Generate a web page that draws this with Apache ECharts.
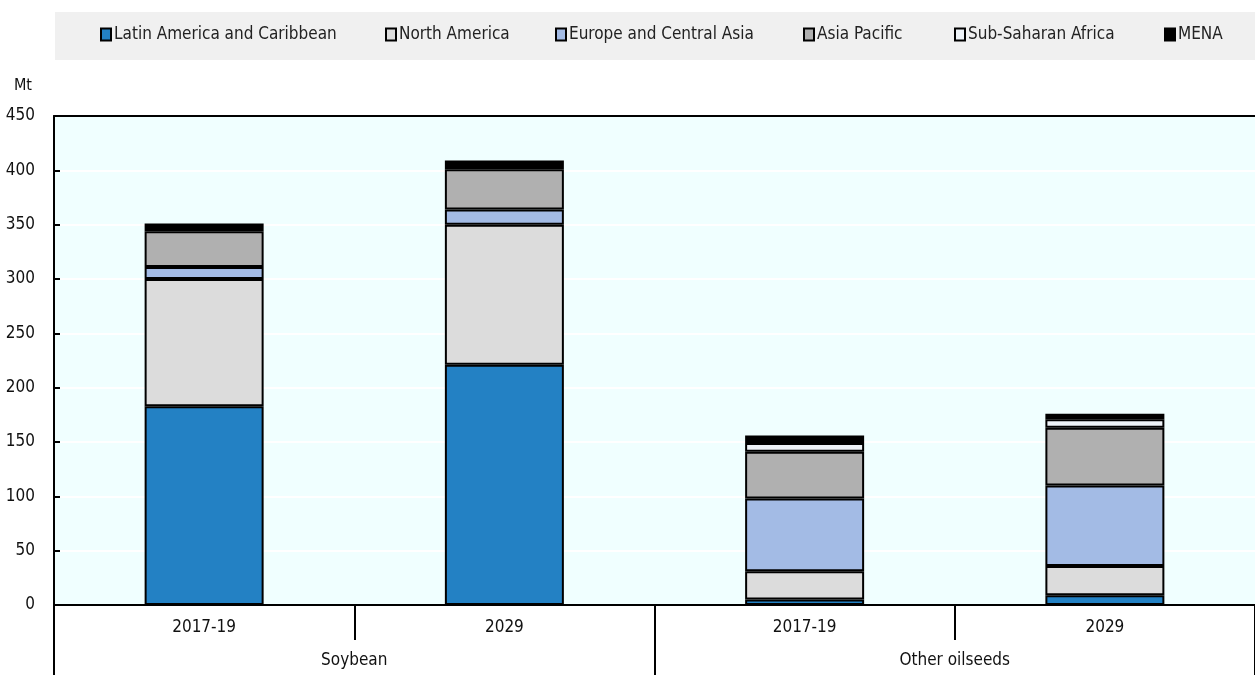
<!DOCTYPE html>
<html>
<head>
<meta charset="utf-8">
<script src="https://cdn.jsdelivr.net/npm/echarts@6/dist/echarts.min.js"></script>
<style>
  html, body { margin: 0; padding: 0; background: #fff; }
  #chart { width: 1255px; height: 675px; }
</style>
</head>
<body>
<div id="chart"></div>
<script>
// categories: product group + period
const groups = ["Soybean", "Other oilseeds"];
const periods = ["2017-19", "2029", "2017-19", "2029"];
const yTicks = [0, 50, 100, 150, 200, 250, 300, 350, 400, 450];

// production by region, Mt
const latinAmerica = [183, 221, 5, 9];
const northAmerica = [117, 129, 26, 27];
const europeCentralAsia = [11, 14, 67, 74];
const asiaPacific = [33, 37, 43, 53];
const subSaharanAfrica = [3, 3, 8, 8];
const mena = [4, 5, 7, 5];

const regions = [
  { name: "Latin America and Caribbean", data: latinAmerica, color: "#2381C4", legendX: 100 },
  { name: "North America", data: northAmerica, color: "#DCDCDC", legendX: 385 },
  { name: "Europe and Central Asia", data: europeCentralAsia, color: "#A3BBE5", legendX: 555 },
  { name: "Asia Pacific", data: asiaPacific, color: "#B0B0B0", legendX: 803 },
  { name: "Sub-Saharan Africa", data: subSaharanAfrica, color: "#EEF3F8", legendX: 954 },
  { name: "MENA", data: mena, color: "#000000", legendX: 1164 },
];

const font = "'Liberation Sans Narrow', 'DejaVu Sans Condensed', 'Liberation Sans', sans-serif";

const chart = echarts.init(document.getElementById("chart"));

chart.setOption({
  backgroundColor: "#fff",
  animation: false,
  textStyle: { fontFamily: font },

  graphic: [
    {
      type: "rect",
      shape: { x: 55, y: 12, width: 1200, height: 48 },
      style: { fill: "#F0F0F0" },
      z: -10,
    },
  ],

  // one legend per region so each sits where it does in the original
  legend: regions.map((r) => ({
    data: [r.name],
    left: r.legendX,
    top: 26,
    padding: 0,
    icon: "rect",
    itemWidth: 10,
    itemHeight: 12,
    itemGap: 4,
    textStyle: { fontFamily: font, fontSize: 17, color: "#222", padding: [0, 0, 0, -2] },
    itemStyle: { borderColor: "#000", borderWidth: 2 },
  })),

  grid: {
    left: 54,
    right: 0,
    top: 116,
    bottom: 70,
    show: true,
    backgroundColor: "#F0FFFF",
    borderWidth: 0,
  },

  xAxis: [
    {
      type: "category",
      data: periods.map((p, i) => i + "|" + p),
      axisLine: { lineStyle: { color: "#000", width: 2 } },
      axisTick: { show: true, interval: 0, length: 35, lineStyle: { color: "#000", width: 2 } },
      axisLabel: {
        color: "#111",
        fontSize: 17,
        margin: 14,
        formatter: (v) => v.split("|")[1],
      },
    },
    {
      type: "category",
      data: groups,
      position: "bottom",
      axisLine: { show: false },
      axisTick: { show: true, interval: 0, length: 70, lineStyle: { color: "#000", width: 2 } },
      axisLabel: { color: "#111", fontSize: 17, margin: 47 },
    },
    {
      // top frame line of the plot area
      type: "category",
      data: groups,
      position: "top",
      axisLine: { show: true, lineStyle: { color: "#000", width: 2 } },
      axisTick: { show: false },
      axisLabel: { show: false },
    },
  ],

  yAxis: {
    type: "value",
    min: yTicks[0],
    max: yTicks[yTicks.length - 1],
    interval: 50,
    name: "Mt",
    nameLocation: "end",
    nameGap: 22,
    nameTextStyle: { color: "#111", fontSize: 16, align: "right", padding: [0, 22, 0, 0] },
    axisLine: { show: true, lineStyle: { color: "#000", width: 2 } },
    axisTick: { show: true, inside: true, length: 6, lineStyle: { color: "#000", width: 2 } },
    axisLabel: { color: "#111", fontSize: 17, margin: 19 },
    splitLine: { lineStyle: { color: "#fff", width: 2 } },
  },

  series: regions.map((r) => ({
    name: r.name,
    type: "bar",
    stack: "total",
    barWidth: 119,
    data: r.data,
    itemStyle: { color: r.color, borderColor: "#000", borderWidth: 2 },
  })),
});
</script>
</body>
</html>
